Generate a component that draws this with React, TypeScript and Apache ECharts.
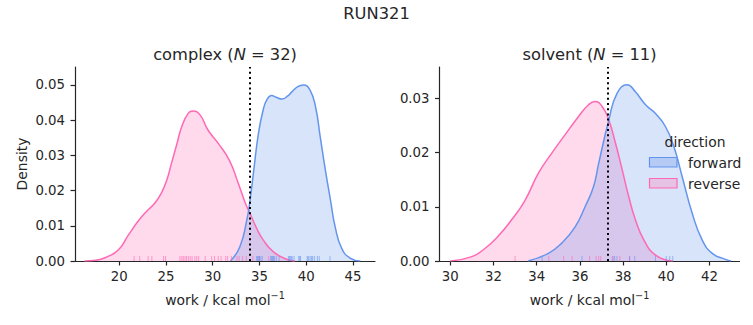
import React, { useEffect, useRef } from "react";
import * as echarts from "echarts";

// ---------- data ----------
const complexTitleN = 32;
const solventTitleN = 11;
const complexThreshold = 34.0;
const solventThreshold = 37.31;

const complexXTicks = [20, 25, 30, 35, 40, 45];
const complexYTicks = [0, 0.01, 0.02, 0.03, 0.04, 0.05];
const solventXTicks = [30, 32, 34, 36, 38, 40, 42];
const solventYTicks = [0, 0.01, 0.02, 0.03];

const complexReverseKde = [
  [16.3, 0], [17.5, 0.0002], [18.8, 0.0013], [19.9, 0.0031], [21.0, 0.0074],
  [22.0, 0.0112], [22.9, 0.014], [23.8, 0.0164], [24.5, 0.0192], [25.1, 0.023],
  [25.6, 0.0278], [26.15, 0.033], [26.7, 0.0382], [27.4, 0.042], [27.9, 0.0426],
  [28.65, 0.0415], [29.5, 0.0372], [30.6, 0.0334], [31.8, 0.0285], [32.75, 0.022],
  [33.5, 0.0164], [34.0, 0.0135], [34.7, 0.0093], [35.4, 0.006], [36.5, 0.0026],
  [37.9, 0.0005], [38.8, 0],
];
const complexForwardKde = [
  [31.9, 0], [32.9, 0.004], [33.65, 0.0116], [34.0, 0.0173], [34.4, 0.0259],
  [34.9, 0.0363], [35.4, 0.0429], [35.8, 0.0458], [36.3, 0.047], [36.8, 0.0465],
  [37.4, 0.046], [38.0, 0.0468], [38.5, 0.0481], [39.1, 0.0495], [39.7, 0.05],
  [40.4, 0.0486], [41.0, 0.0438], [41.5, 0.0353], [42.05, 0.0259], [42.6, 0.0173],
  [43.1, 0.0097], [43.8, 0.0036], [44.7, 0.0008], [45.8, 0],
];
const solventReverseKde = [
  [30.0, 0], [31.0, 0.0008], [31.6, 0.0023], [32.2, 0.0045], [32.84, 0.0076],
  [33.46, 0.0112], [34.08, 0.0162], [34.7, 0.0199], [35.3, 0.0232], [35.93, 0.0266],
  [36.4, 0.0288], [36.7, 0.0294], [37.03, 0.0285], [37.34, 0.026], [37.65, 0.0217],
  [37.96, 0.0168], [38.26, 0.0119], [38.57, 0.0076], [38.96, 0.0039], [39.5, 0.0011],
  [40.3, 0],
];
const solventForwardKde = [
  [33.6, 0], [34.54, 0.0014], [35.16, 0.0033], [35.78, 0.0063], [36.24, 0.01],
  [36.63, 0.0137], [36.87, 0.018], [37.34, 0.026], [37.72, 0.0309], [38.19, 0.0325],
  [38.57, 0.0312], [39.04, 0.0288], [39.5, 0.0272], [39.96, 0.0248], [40.35, 0.0211],
  [40.74, 0.0155], [41.2, 0.0088], [41.66, 0.0039], [42.13, 0.0014], [42.74, 0.0003],
  [43.0, 0],
];

const complexReverseRug = [
  21.6, 22.2, 23.1, 23.5, 24.75, 24.96, 26.5, 26.7, 26.86, 27.04, 27.2, 27.4, 27.6,
  27.8, 28.1, 28.3, 28.5, 29.2, 29.9, 30.2, 30.6, 30.9, 31.4, 31.6, 32.0, 32.6,
  32.83, 33.2, 33.6, 34.3, 35.0, 36.0,
];
const complexForwardRug = [
  34.7, 34.8, 34.9, 35.0, 35.15, 35.3, 36.2, 36.3, 36.4, 36.5, 36.6, 36.8, 37.1,
  38.1, 38.2, 38.3, 38.4, 38.5, 38.7, 39.2, 39.3, 39.4, 40.1, 40.2, 40.3, 40.5,
  40.6, 40.7, 40.9, 41.2, 41.4, 42.55,
];
const solventReverseRug = [33.0, 34.56, 35.25, 35.64, 36.45, 36.75, 36.87, 36.96, 37.55, 37.85, 38.3];
const solventForwardRug = [34.25, 36.1, 37.5, 37.61, 37.72, 38.3, 38.54, 39.5, 40.0, 40.16, 40.3];

// ---------- styling ----------
const BLUE = "#6495ED";
const PINK = "#FF69B4";
const INK = "#262626";
const FONT = "DejaVu Sans";
const TICK_FS = 13.3;
const LABEL_FS = 13.9;
const TITLE_FS = 16.3;

const rugData = (vals: number[]) => vals.map((v) => [v, 0]);

function kdeSeries(name: string, data: number[][], color: string, idx: number, threshold?: number) {
  const s: any = {
    name,
    type: "line",
    xAxisIndex: idx,
    yAxisIndex: idx,
    data,
    smooth: 0.5,
    showSymbol: false,
    symbol: "none",
    lineStyle: { color, width: 1.5 },
    areaStyle: { color, opacity: 0.25 },
    z: 2,
  };
  if (threshold !== undefined) {
    s.markLine = {
      silent: true,
      symbol: ["none", "none"],
      label: { show: false },
      lineStyle: { color: "#000", type: [2, 3.2], width: 2, cap: "butt" },
      data: [{ xAxis: threshold }],
      z: 5,
    };
  }
  return s;
}

function rugSeries(name: string, vals: number[], color: string, idx: number) {
  return {
    name,
    type: "scatter",
    xAxisIndex: idx,
    yAxisIndex: idx,
    data: rugData(vals),
    symbol: "rect",
    symbolSize: [1, 5],
    symbolOffset: [0, "-50%"],
    itemStyle: { color, opacity: 0.6 },
    z: 3,
  };
}

const xName = "{a|work / kcal mol}{sup|\u22121}";
const nameStyle = {
  fontSize: LABEL_FS,
  color: INK,
  fontFamily: FONT,
  rich: {
    a: { fontSize: LABEL_FS, lineHeight: 20, verticalAlign: "middle", color: INK, fontFamily: FONT },
    sup: { fontSize: 9.7, lineHeight: 10, verticalAlign: "top", color: INK, fontFamily: FONT },
  },
};

function xAxis(idx: number, min: number, max: number, ticks: number[]) {
  return {
    type: "value",
    gridIndex: idx,
    min,
    max,
    name: xName,
    nameLocation: "middle",
    nameGap: 29,
    nameTextStyle: nameStyle,
    axisLine: { show: true, onZero: false, lineStyle: { color: INK, width: 1.2 } },
    axisTick: { show: true, length: 4.5, customValues: ticks, lineStyle: { color: INK, width: 1.2 } },
    axisLabel: { customValues: ticks, color: INK, fontSize: TICK_FS, fontFamily: FONT, margin: 9 },
    splitLine: { show: false },
  };
}

function yAxis(idx: number, max: number, ticks: number[], withName: boolean) {
  return {
    type: "value",
    gridIndex: idx,
    min: 0,
    max,
    name: withName ? "Density" : "",
    nameLocation: "middle",
    nameGap: 46,
    nameTextStyle: { fontSize: LABEL_FS, color: INK, fontFamily: FONT },
    axisLine: { show: true, lineStyle: { color: INK, width: 1.2 } },
    axisTick: { show: true, length: 4.5, customValues: ticks, lineStyle: { color: INK, width: 1.2 } },
    axisLabel: {
      customValues: ticks,
      color: INK,
      fontSize: TICK_FS,
      fontFamily: FONT,
      margin: 10,
      formatter: (v: number) => v.toFixed(2),
    },
    splitLine: { show: false },
  };
}

function titleText(x: number, label: string, n: number) {
  return {
    type: "text",
    x,
    y: 54,
    style: {
      text: `{a|${label} (}{i|N}{a| = ${n})}`,
      align: "center",
      verticalAlign: "middle",
      rich: {
        a: { fontSize: TITLE_FS, fontFamily: FONT, fill: INK },
        i: { fontSize: TITLE_FS, fontFamily: FONT, fontStyle: "italic", fill: INK },
      },
    },
  };
}

function legendText(x: number, y: number, text: string, align: string) {
  return {
    type: "text",
    x,
    y,
    style: { text, fontSize: LABEL_FS, fontFamily: FONT, fill: INK, align, verticalAlign: "middle" },
    z: 10,
  };
}

export default function App() {
  const ref = useRef<HTMLDivElement>(null);
  useEffect(() => {
    const chart = echarts.init(ref.current!, null, { renderer: "svg" });
    const option: any = {
      animation: false,
      backgroundColor: "#fff",
      textStyle: { fontFamily: FONT },
      grid: [
        { left: 75, top: 67, width: 300, height: 194 },
        { left: 439.5, top: 67, width: 300, height: 194 },
      ],
      xAxis: [
        xAxis(0, 15.28, 47.36, complexXTicks),
        xAxis(1, 29.5, 43.39, solventXTicks),
      ],
      yAxis: [
        yAxis(0, 0.0551, complexYTicks, true),
        yAxis(1, 0.03577, solventYTicks, false),
      ],
      series: [
        kdeSeries("reverse", complexReverseKde, PINK, 0),
        kdeSeries("forward", complexForwardKde, BLUE, 0, complexThreshold),
        rugSeries("reverse rug", complexReverseRug, PINK, 0),
        rugSeries("forward rug", complexForwardRug, BLUE, 0),
        kdeSeries("reverse", solventReverseKde, PINK, 1),
        kdeSeries("forward", solventForwardKde, BLUE, 1, solventThreshold),
        rugSeries("reverse rug", solventReverseRug, PINK, 1),
        rugSeries("forward rug", solventForwardRug, BLUE, 1),
      ],
      graphic: [
        {
          type: "text",
          x: 376.5,
          y: 13,
          style: { text: "RUN321", fontSize: TITLE_FS, fontFamily: FONT, fill: INK, align: "center", verticalAlign: "middle" },
        },
        titleText(225, "complex", complexTitleN),
        titleText(589.5, "solvent", solventTitleN),
        legendText(695, 142, "direction", "center"),
        {
          type: "rect",
          shape: { x: 649.5, y: 157.5, width: 27.5, height: 9.5 },
          style: { fill: "#b5cbf5", stroke: BLUE, lineWidth: 1.2 },
          z: 10,
        },
        legendText(688, 162.5, "forward", "left"),
        {
          type: "rect",
          shape: { x: 649.5, y: 178.5, width: 27.5, height: 9.5 },
          style: { fill: "#e6c3e4", stroke: PINK, lineWidth: 1.2 },
          z: 10,
        },
        legendText(688, 183.5, "reverse", "left"),
      ],
    };
    chart.setOption(option);
    return () => chart.dispose();
  }, []);
  return (
    <div
      ref={ref}
      style={{ position: "fixed", left: 0, top: 0, width: 753, height: 325, background: "#fff" }}
    />
  );
}
